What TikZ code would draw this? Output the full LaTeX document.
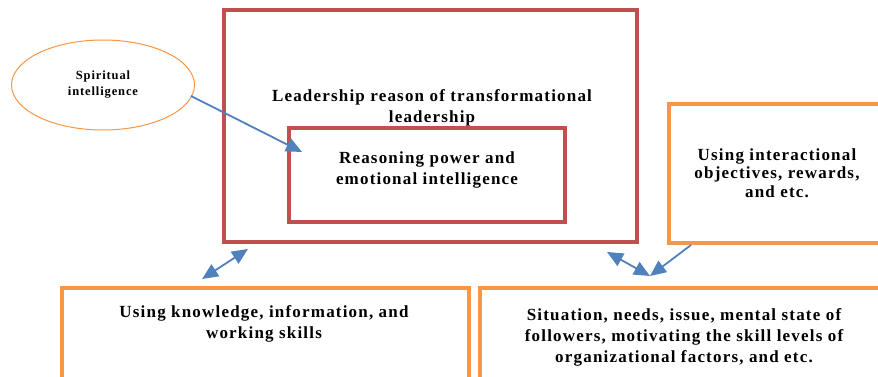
\documentclass[tikz,border=0pt]{standalone}
\usepackage{fontspec}
\setmainfont{Liberation Serif}
\newfontfamily\spacedfont{Liberation Serif}[LetterSpace=7]
\usetikzlibrary{shapes.geometric, arrows.meta, positioning, calc}
\definecolor{boxred}{RGB}{192, 80, 77}
\definecolor{boxorange}{RGB}{247, 150, 70}
\definecolor{linkblue}{RGB}{79, 129, 189}

\begin{document}
\begin{tikzpicture}[
    x=1pt, y=-1pt,
    label text/.style={align=center, font=\spacedfont\fontsize{17}{21}\selectfont\bfseries},
    redbox/.style={rectangle, draw=boxred, line width=4pt, label text},
    orangebox/.style={rectangle, draw=boxorange, line width=4pt},
    bubble/.style={ellipse, draw=boxorange, line width=1pt, align=center, font=\spacedfont\fontsize{12.5}{16}\selectfont\bfseries},
    link/.style={{Triangle[length=16pt, width=14pt]}-{Triangle[length=16pt, width=14pt]}, draw=linkblue, line width=1.8pt},
    onelink/.style={-{Triangle[length=16pt, width=14pt]}, draw=linkblue, line width=1.8pt},
]
\useasboundingbox (0,0) rectangle (878,377);
\clip (0,0) rectangle (878,377);

% Leadership boxes
\node[redbox, minimum width=413pt, minimum height=232pt] (lead) at (430.5, 126) {};
\node[label text] (leadtext) at (432, 108) {Leadership reason of transformational\\leadership};
\node[redbox, minimum width=276pt, minimum height=94pt, text depth=14pt] (reason) at (427, 175) {Reasoning power and\\emotional intelligence};

% Spiritual intelligence
\node[bubble, minimum width=183pt, minimum height=90pt] (spirit) at (103, 85) {Spiritual\\intelligence};

% Orange boxes
\node[orangebox, minimum width=230pt, minimum height=139pt] (interact) at (784, 173.5) {};
\node[label text, font=\spacedfont\fontsize{17}{18.5}\selectfont\bfseries] (interacttext) at (777, 173) {Using interactional\\objectives, rewards,\\and etc.};
\node[orangebox, minimum width=407pt, minimum height=140pt, anchor=north west] (knowledge) at (60, 286) {};
\node[label text] (knowtext) at (264, 324) {Using knowledge, information, and\\working skills};
\node[orangebox, minimum width=420pt, minimum height=140pt, anchor=north west] (situation) at (478, 286) {};
\node[label text] (sittext) at (684, 337) {Situation, needs, issue, mental state of\\followers, motivating the skill levels of\\organizational factors, and etc.};

% Connectors
\coordinate (sp) at ($(spirit.center)+(88,11)$);
\coordinate (rs) at ($(reason.north west)+(15,26)$);
\coordinate (kn) at ($(knowledge.north west)+(142,-7)$);
\coordinate (ldl) at ($(lead.south west)+(26,5)$);
\coordinate (ldr) at ($(lead.south east)+(-32,8)$);
\coordinate (st) at ($(situation.north west)+(172,-10)$);
\coordinate (ia) at ($(interact.south west)+(24,0)$);

\draw[onelink] (sp) -- (rs);
\draw[link] (kn) -- (ldl);
\draw[link] (ldr) -- (st);
\draw[onelink] (ia) -- (st);

\end{tikzpicture}
\end{document}
